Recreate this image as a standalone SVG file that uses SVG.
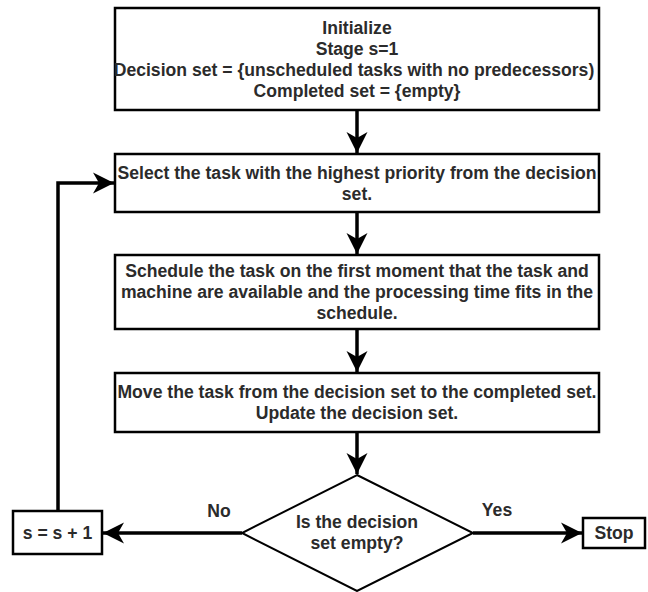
<svg xmlns="http://www.w3.org/2000/svg" width="648" height="592" viewBox="0 0 648 592">
<style>
.box{fill:#fff;stroke:#000;stroke-width:2.5}
.dia{fill:#fff;stroke:#000;stroke-width:2}
.t{font-family:"Liberation Sans",Arial,sans-serif;font-size:17.6px;font-weight:bold;fill:#2b2b2b;text-anchor:middle;dominant-baseline:central}
.edge{fill:none;stroke:#000;stroke-width:3.5}
</style>
<defs>
<marker id="arr" markerUnits="userSpaceOnUse" viewBox="-22 -11 23 22" refX="0" refY="0" markerWidth="23" markerHeight="22" orient="auto">
<path d="M0,0 L-21,-10.5 L-15,0 L-21,10.5 Z" fill="#000"/>
</marker>
</defs>
<rect width="648" height="592" fill="#fff"/>
<g id="connectors">
<line class="edge" x1="357" y1="110" x2="357" y2="153" marker-end="url(#arr)"/>
<line class="edge" x1="357" y1="212" x2="357" y2="254" marker-end="url(#arr)"/>
<line class="edge" x1="357" y1="329" x2="357" y2="372" marker-end="url(#arr)"/>
<line class="edge" x1="357" y1="432" x2="357" y2="474" marker-end="url(#arr)"/>
<line class="edge" x1="242" y1="533" x2="103" y2="533" marker-end="url(#arr)"/>
<line class="edge" x1="473" y1="533" x2="582" y2="533" marker-end="url(#arr)"/>
<polyline class="edge" points="58,511 58,183 114,183" marker-end="url(#arr)"/>
<text class="t" x="219" y="511">No</text>
<text class="t" x="497" y="510">Yes</text>
</g>
<g id="init">
<rect class="box" x="115" y="8" width="484" height="102"/>
<text class="t" x="357" y="28">Initialize</text>
<text class="t" x="357" y="49">Stage s=1</text>
<text class="t" x="354" y="70">Decision set = {unscheduled tasks with no predecessors)</text>
<text class="t" x="357" y="91">Completed set = {empty}</text>
</g>
<g id="select">
<rect class="box" x="115" y="154" width="484" height="58"/>
<text class="t" x="357" y="172.5">Select the task with the highest priority from the decision</text>
<text class="t" x="357" y="193.5">set.</text>
</g>
<g id="schedule">
<rect class="box" x="115" y="255" width="484" height="74"/>
<text class="t" x="357" y="271">Schedule the task on the first moment that the task and</text>
<text class="t" x="357" y="292">machine are available and the processing time fits in the</text>
<text class="t" x="357" y="313">schedule.</text>
</g>
<g id="move">
<rect class="box" x="115" y="373" width="484" height="59"/>
<text class="t" x="357" y="392">Move the task from the decision set to the completed set.</text>
<text class="t" x="357" y="413">Update the decision set.</text>
</g>
<g id="decision">
<polygon class="dia" points="357,475 473,533 357,591 242,533"/>
<text class="t" x="357" y="522">Is the decision</text>
<text class="t" x="357" y="543">set empty?</text>
</g>
<g id="increment">
<rect class="box" x="13" y="511" width="89" height="43"/>
<text class="t" x="57.5" y="532.5">s = s + 1</text>
</g>
<g id="stop">
<rect class="box" x="583" y="518" width="62" height="30"/>
<text class="t" x="614" y="533">Stop</text>
</g>
</svg>
